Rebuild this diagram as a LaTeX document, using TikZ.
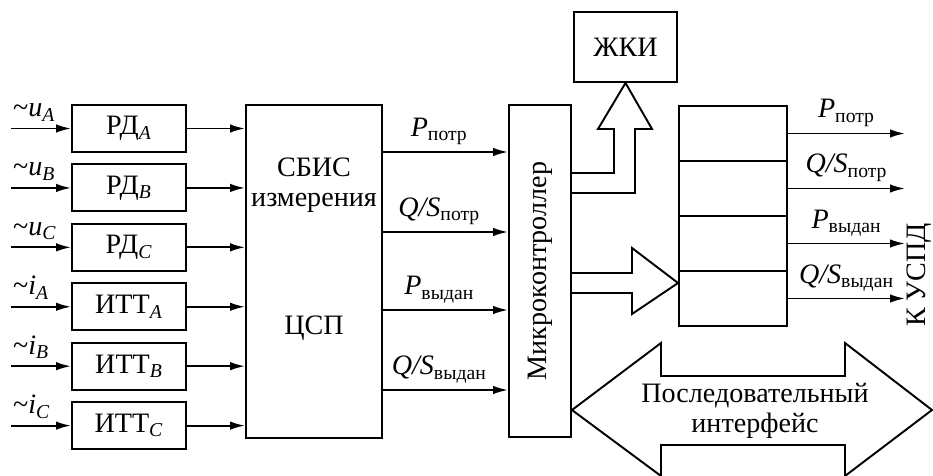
\documentclass[tikz,border=0pt]{standalone}
\usepackage{fontspec}
\setmainfont{Liberation Serif}
\usetikzlibrary{arrows.meta,positioning}
\tikzset{box/.style={draw,line width=1.1pt,minimum width=2.28cm,minimum height=0.94cm,inner sep=0pt},cell/.style={draw,line width=1.1pt,minimum width=2.16cm,minimum height=1.1cm},arrow/.style={-{Latex[length=3mm,width=1.7mm]},line width=1.1pt},wide/.style={draw,line width=1.1pt,line join=miter},small/.style={font=\fontsize{16}{17}\selectfont}}

\begin{document}
\begin{tikzpicture}[x=0.02cm,y=-0.02cm,node distance=2.1mm,small]
\useasboundingbox (0,0) rectangle (933,476);
% input converters
\node[box] (rdA) at (129,128.5) {РД\textsubscript{\textit{A}}};
\node[box,below=of rdA] (rdB) {РД\textsubscript{\textit{B}}};
\node[box,below=of rdB] (rdC) {РД\textsubscript{\textit{C}}};
\node[box,below=of rdC] (ittA) {ИТТ\textsubscript{\textit{A}}};
\node[box,below=of ittA] (ittB) {ИТТ\textsubscript{\textit{B}}};
\node[box,below=of ittB] (ittC) {ИТТ\textsubscript{\textit{C}}};
\node[box,minimum width=2.72cm,minimum height=6.66cm] (sbis) at (314,271.5) {};
\node[align=center] (sbisT) at (314,185) {СБИС\\измерения};
\node (csp) at (314,328) {ЦСП};
\node[box,minimum width=1.24cm,minimum height=6.64cm] (mc) at (540,271) {};
\node[rotate=90] (mcT) at (mc.center) {Микроконтроллер};
\node[box,minimum width=2.06cm,minimum height=1.4cm] (lcd) at (625.5,47) {ЖКИ};
\foreach \i in {1,...,4} \node[cell] (reg\i) at (733,78.5+55*\i) {};
\node[rotate=90,inner sep=0pt] (uspd) at (919,275) {К УСПД};
\coordinate (outx) at (905,0);
\foreach \n/\v/\s in {rdA/u/A,rdB/u/B,rdC/u/C,ittA/i/A,ittB/i/B,ittC/i/C}{
  \coordinate[left=12mm of \n] (in\n);
  \draw[arrow] (in\n) -- (\n.west);
  \node[above right,inner sep=1pt,yshift=3pt] (l\n) at (in\n) {\textasciitilde\textit{\v}\textsubscript{\textit{\s}}};
  \draw[arrow] (\n.east) -- (\n.east -| sbis.west);
}
% measured values
\draw[arrow] (sbis.east |- 0,152) -- node[above,pos=0.45] (mPp) {\textit{P}\textsubscript{потр}} (mc.west |- 0,152);
\draw[arrow] (sbis.east |- 0,232) -- node[above,pos=0.45] (mQp) {\textit{Q/S}\textsubscript{потр}} (mc.west |- 0,232);
\draw[arrow] (sbis.east |- 0,310) -- node[above,pos=0.45] (mPv) {\textit{P}\textsubscript{выдан}} (mc.west |- 0,310);
\draw[arrow] (sbis.east |- 0,390) -- node[above,pos=0.45] (mQv) {\textit{Q/S}\textsubscript{выдан}} (mc.west |- 0,390);
\draw[arrow] (reg1.east) -- node[above] (oPp) {\textit{P}\textsubscript{потр}} (reg1.east -| outx);
\draw[arrow] (reg2.east) -- node[above] (oQp) {\textit{Q/S}\textsubscript{потр}} (reg2.east -| outx);
\draw[arrow] (reg3.east) -- node[above] (oPv) {\textit{P}\textsubscript{выдан}} (reg3.east -| outx);
\draw[arrow] (reg4.east) -- node[above] (oQv) {\textit{Q/S}\textsubscript{выдан}} (reg4.east -| outx);
% bus arrows
\draw[wide] (mc.east |- 0,173) -- (614,173) -- (614,129) -- (598,129) -- (lcd.south) -- (652,129) -- (635,129) -- (635,193) -- (mc.east |- 0,193);
\draw[wide] (mc.east |- 0,273) -- (632,273) -- (632,248) -- (reg4.west |- 0,283) -- (632,314) -- (632,293) -- (mc.east |- 0,293);
\draw[wide] (mc.east |- 0,410) -- (661,343) -- (661,376) -- (845,376) -- (845,343) -- (932,410) -- (845,476) -- (845,445) -- (661,445) -- (661,476) -- cycle;
\node[align=center] (serial) at (755,411) {Последовательный\\интерфейс};
\end{tikzpicture}
\end{document}
